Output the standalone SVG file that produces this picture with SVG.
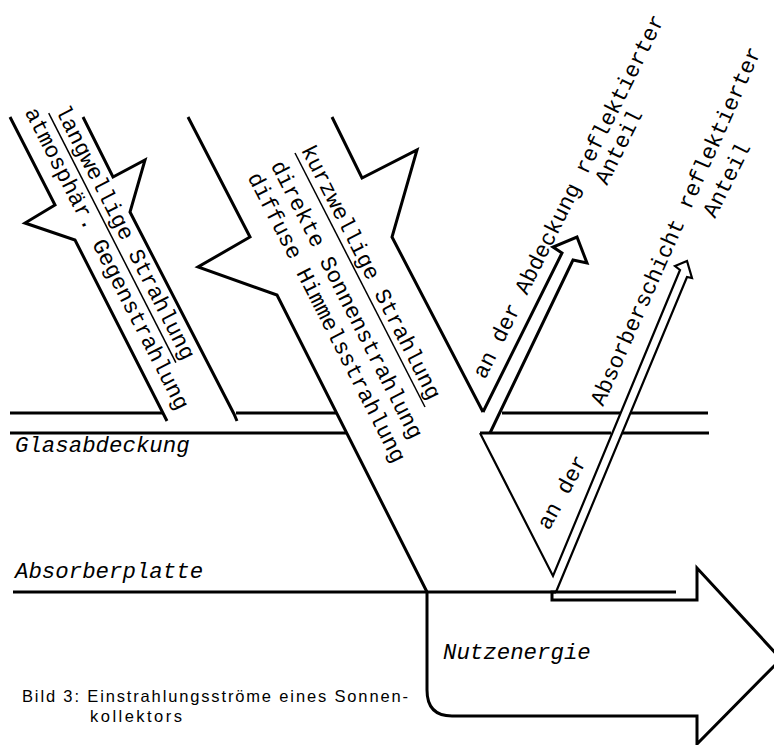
<svg xmlns="http://www.w3.org/2000/svg" width="774" height="745" viewBox="0 0 774 745">
<style>
.s{fill:none;stroke:#000;stroke-width:3;stroke-linejoin:miter;stroke-miterlimit:10}
.a{fill:none;stroke:#000;stroke-width:2.2;stroke-linejoin:miter}
.u{fill:none;stroke:#000;stroke-width:1.5}
.t{font-family:"Liberation Mono","DejaVu Sans Mono",monospace;font-size:22.4px;fill:#000}
.i{font-style:italic}
.c{font-family:"Liberation Sans",Arial,sans-serif;font-size:16.5px;fill:#000}
</style>
<rect width="774" height="745" fill="#fff"/>
<g id="layers">
  <path id="glass-top" class="s" d="M10,413H163M236,413H337M502,413H620M631,413H708"/>
  <path id="glass-bottom" class="s" d="M10,433H347M480,433H611M622,433H709"/>
  <path id="absorber-line" class="s" d="M13,592H676"/>
  <text class="t i" x="15" y="452">Glasabdeckung</text>
  <text class="t i" x="15" y="578">Absorberplatte</text>
</g>
<g id="longwave">
  <polyline class="s" points="10,117 55,205 25,223 75,240 167,421"/>
  <polyline class="s" points="83,117 113,177 145,160 130,212 234,414 237,421"/>
  <line class="u" x1="48.7" y1="113.2" x2="175.9" y2="362.7"/>
  <text class="t" transform="translate(54.9,110) rotate(63)">langwellige Strahlung</text>
  <text class="t" transform="translate(24.6,112.1) rotate(63)">atmosphär. Gegenstrahlung</text>
</g>
<g id="shortwave">
  <polyline class="s" points="188,117 250,237 198,267 277,295 427,592"/>
  <polyline class="s" points="332,117 362,178 417,150 392,237 483,412"/>
  <line class="u" x1="295" y1="153" x2="425" y2="407"/>
  <text class="t" transform="translate(300.8,149.8) rotate(63)">kurzwellige Strahlung</text>
  <text class="t" transform="translate(270.5,165.2) rotate(63)">direkte Sonnenstrahlung</text>
  <text class="t" transform="translate(247.3,177) rotate(63)">diffuse Himmelsstrahlung</text>
</g>
<g id="reflect-cover">
  <polyline class="s" points="483,412 562,253 553,247 577,237 587,263 573,260 490,433"/>
  <text class="t" transform="translate(485,380) rotate(-63.5)">an der Abdeckung reflektierter</text>
  <text class="t" transform="translate(607,186) rotate(-63.5)">Anteil</text>
</g>
<g id="reflect-absorber">
  <polyline class="a" points="480,433 553,576 680,270 675,266 687,261 692,278 687,277 556,592"/>
  <text class="t" transform="translate(549,531) rotate(-61.5)">an der</text>
  <text class="t" transform="translate(603,407) rotate(-66)">Absorberschicht reflektierter</text>
  <text class="t" transform="translate(715,219) rotate(-63.5)">Anteil</text>
</g>
<g id="useful-energy">
  <path class="s" d="M556,592H552V600H697V568L781,659L697,744V716H452Q427,716 427,690V592"/>
  <text class="t i" x="443" y="659">Nutzenergie</text>
</g>
<g id="caption">
  <text class="c" x="22" y="702" textLength="386" lengthAdjust="spacing">Bild 3: Einstrahlungsströme eines Sonnen-</text>
  <text class="c" x="90" y="722" textLength="92" lengthAdjust="spacing">kollektors</text>
</g>
</svg>
